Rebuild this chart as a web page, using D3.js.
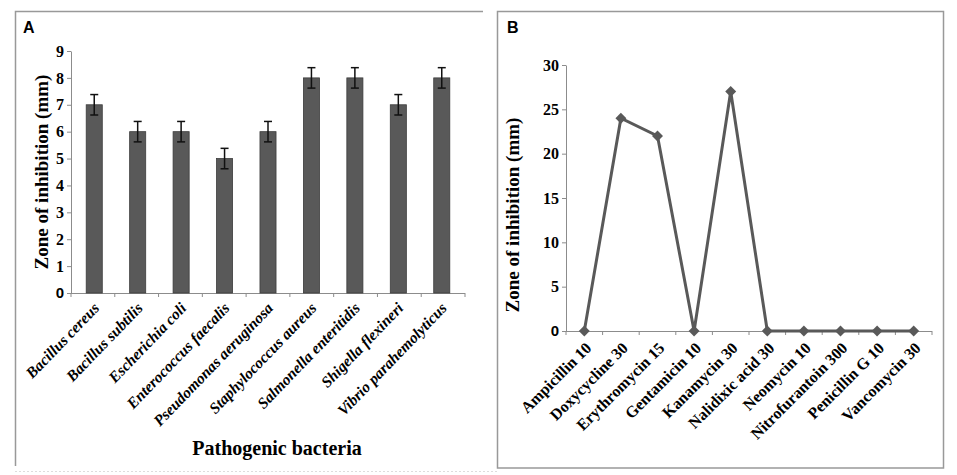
<!DOCTYPE html>
<html>
<head>
<meta charset="utf-8">
<script src="https://cdn.jsdelivr.net/npm/d3@7"></script>
<style>
  body { margin: 0; background: #fff; }
  svg text { fill: #000; }
</style>
</head>
<body>
<div id="chart"></div>
<script>
// DATA
const bacteria = ["Bacillus cereus", "Bacillus subtilis", "Escherichia coli", "Enterococcus faecalis",
  "Pseudomonas aeruginosa", "Staphylococcus aureus", "Salmonella enteritidis", "Shigella flexineri",
  "Vibrio parahemolyticus"];
const zoneA = [7, 6, 6, 5, 6, 8, 8, 7, 8];
const errA = [0.38, 0.38, 0.38, 0.38, 0.38, 0.38, 0.38, 0.38, 0.38];
const ticksA = [0, 1, 2, 3, 4, 5, 6, 7, 8, 9];

const antibiotics = ["Ampicillin 10", "Doxycycline 30", "Erythromycin 15", "Gentamicin 10", "Kanamycin 30",
  "Nalidixic acid 30", "Neomycin 10", "Nitrofurantoin 300", "Penicillin G 10", "Vancomycin 30"];
const zoneB = [0, 24, 22, 0, 27, 0, 0, 0, 0, 0];
const ticksB = [0, 5, 10, 15, 20, 25, 30];

// CONSTANTS
const WIDTH = 957;
const HEIGHT = 475;
const SERIF = "'Liberation Serif', 'Times New Roman', serif";
const SANS = "'Liberation Sans', Arial, sans-serif";
const AXIS = "#8c8c8c";
const MARK = "#595959";

const svg = d3.select("#chart").append("svg")
  .attr("width", WIDTH)
  .attr("height", HEIGHT);

// panel frames
svg.append("path")
  .attr("d", "M15.5,466 L15.5,11.5 L483,11.5")
  .attr("fill", "none").attr("stroke", "#999").attr("stroke-width", 1.5);
svg.append("line")
  .attr("x1", 15).attr("x2", 497).attr("y1", 471.5).attr("y2", 471.5)
  .attr("stroke", "#ddd").attr("stroke-dasharray", "2,2");
svg.append("rect")
  .attr("x", 497.5).attr("y", 11.5).attr("width", 446).attr("height", 456.5)
  .attr("fill", "none").attr("stroke", "#999").attr("stroke-width", 1.5);

const styleAxis = (g) => {
  g.select(".domain").attr("stroke", AXIS);
  g.selectAll(".tick line").attr("stroke", AXIS);
  g.selectAll("text")
    .attr("font-family", SERIF).attr("font-weight", "bold")
    .attr("font-size", 16).attr("fill", "#000");
};

// PANEL A
const xA = d3.scaleBand().domain(bacteria).range([71, 465]).paddingInner(0.63).paddingOuter(0.35);
const yA = d3.scaleLinear().domain([0, 9]).range([293, 51]);

const gA = svg.append("g");
gA.append("text").attr("x", 23).attr("y", 33)
  .attr("font-family", SANS).attr("font-weight", "bold").attr("font-size", 16).text("A");

gA.append("g")
  .attr("transform", "translate(71,0)")
  .call(d3.axisLeft(yA).tickValues(ticksA).tickSize(4).tickSizeOuter(0))
  .call(styleAxis)
  .call(g => g.selectAll("text").filter(d => d === 0).attr("font-family", SANS).attr("font-size", 15));

// x axis with ticks at band edges
const edgesA = d3.range(bacteria.length + 1).map(i => 71 + i * (394 / bacteria.length));
gA.append("line").attr("x1", 71).attr("x2", 465).attr("y1", 293.5).attr("y2", 293.5).attr("stroke", AXIS);
gA.selectAll(".xtick").data(edgesA).join("line")
  .attr("x1", d => d).attr("x2", d => d).attr("y1", 293).attr("y2", 297).attr("stroke", AXIS);

gA.selectAll(".bar").data(zoneA).join("rect")
  .attr("x", (d, i) => xA(bacteria[i]))
  .attr("y", d => yA(d))
  .attr("width", xA.bandwidth())
  .attr("height", d => yA(0) - yA(d))
  .attr("fill", MARK).attr("stroke", "#3c3c3c").attr("stroke-width", 0.8);

const errG = gA.selectAll(".err").data(zoneA).join("g")
  .attr("transform", (d, i) => `translate(${xA(bacteria[i]) + xA.bandwidth() / 2},0)`);
errG.append("line")
  .attr("y1", (d, i) => yA(d + errA[i])).attr("y2", (d, i) => yA(d - errA[i]))
  .attr("stroke", "#111").attr("stroke-width", 1.5);
errG.append("line").attr("x1", -4).attr("x2", 4)
  .attr("y1", (d, i) => yA(d + errA[i])).attr("y2", (d, i) => yA(d + errA[i]))
  .attr("stroke", "#111").attr("stroke-width", 1.5);
errG.append("line").attr("x1", -4).attr("x2", 4)
  .attr("y1", (d, i) => yA(d - errA[i])).attr("y2", (d, i) => yA(d - errA[i]))
  .attr("stroke", "#111").attr("stroke-width", 1.5);

gA.selectAll(".xlab").data(bacteria).join("text")
  .attr("transform", d => `translate(${xA(d) + xA.bandwidth() / 2 + 6},${309}) rotate(-46)`)
  .attr("text-anchor", "end")
  .attr("font-family", SERIF).attr("font-weight", "bold").attr("font-style", "italic")
  .attr("font-size", 15.5)
  .text(d => d);

gA.append("text")
  .attr("transform", `translate(48,${172}) rotate(-90)`)
  .attr("text-anchor", "middle")
  .attr("font-family", SERIF).attr("font-weight", "bold").attr("font-size", 19)
  .text("Zone of inhibition (mm)");

gA.append("text").attr("x", 277).attr("y", 455).attr("text-anchor", "middle")
  .attr("font-family", SERIF).attr("font-weight", "bold").attr("font-size", 20)
  .text("Pathogenic bacteria");

// PANEL B
const xB = d3.scalePoint().domain(antibiotics).range([566, 932]).padding(0.5);
const yB = d3.scaleLinear().domain([0, 30]).range([331, 65]);

const gB = svg.append("g");
gB.append("text").attr("x", 507).attr("y", 33)
  .attr("font-family", SANS).attr("font-weight", "bold").attr("font-size", 16).text("B");

gB.append("g")
  .attr("transform", "translate(566,0)")
  .call(d3.axisLeft(yB).tickValues(ticksB).tickSize(4).tickSizeOuter(0))
  .call(styleAxis)
  .call(g => g.selectAll("text").filter(d => d === 0).attr("font-family", SANS).attr("font-size", 15));

const edgesB = d3.range(antibiotics.length + 1).map(i => 566 + i * (366 / antibiotics.length));
gB.append("line").attr("x1", 566).attr("x2", 932).attr("y1", 331.5).attr("y2", 331.5).attr("stroke", AXIS);
gB.selectAll(".xtick").data(edgesB).join("line")
  .attr("x1", d => d).attr("x2", d => d).attr("y1", 331).attr("y2", 335).attr("stroke", AXIS);

const line = d3.line().x((d, i) => xB(antibiotics[i])).y(d => yB(d));
gB.append("path").datum(zoneB)
  .attr("d", line)
  .attr("fill", "none").attr("stroke", MARK).attr("stroke-width", 3).attr("stroke-linejoin", "miter");

gB.selectAll(".pt").data(zoneB).join("path")
  .attr("d", d3.symbol(d3.symbolSquare, 60))
  .attr("transform", (d, i) => `translate(${xB(antibiotics[i])},${yB(d)}) rotate(45)`)
  .attr("fill", MARK);

gB.selectAll(".xlab").data(antibiotics).join("text")
  .attr("transform", d => `translate(${xB(d) + 8},${349}) rotate(-45)`)
  .attr("text-anchor", "end")
  .attr("font-family", SERIF).attr("font-weight", "bold")
  .attr("font-size", 16)
  .text(d => d);

gB.append("text")
  .attr("transform", `translate(519,${215}) rotate(-90)`)
  .attr("text-anchor", "middle")
  .attr("font-family", SERIF).attr("font-weight", "bold").attr("font-size", 19)
  .text("Zone of inhibition (mm)");
</script>
</body>
</html>
